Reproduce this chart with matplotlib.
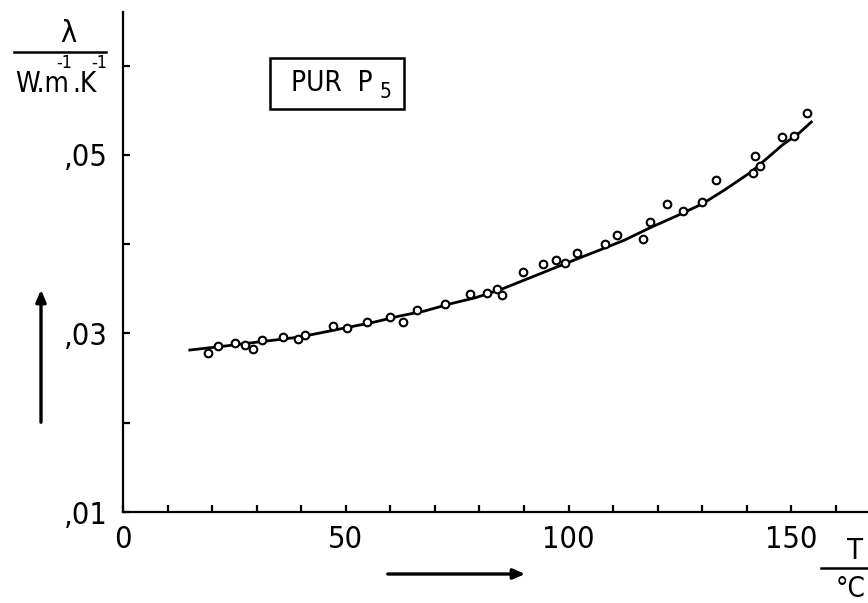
import matplotlib
matplotlib.use("Agg")
import matplotlib.pyplot as plt
from matplotlib.patches import Rectangle, FancyArrowPatch

# measured points (T in degC, lambda in W/(m K))
T_pts = [19.1, 21.3, 25.1, 27.4, 29.1, 31.2, 35.9, 39.2, 40.8, 47.1, 50.2,
         54.7, 59.9, 62.8, 65.9, 72.2, 77.8, 81.6, 83.9, 85.0, 89.7, 94.2,
         97.3, 99.3, 101.8, 108.1, 110.8, 116.8, 118.4, 122.2, 125.6, 130.0,
         133.2, 141.3, 141.9, 143.0, 148.0, 150.7, 153.6]
lam_pts = [0.02781, 0.02859, 0.02893, 0.02870, 0.02826, 0.02926, 0.02960,
           0.02938, 0.02982, 0.03083, 0.03061, 0.03128, 0.03184, 0.03128,
           0.03262, 0.03330, 0.03442, 0.03453, 0.03498, 0.03430, 0.03688,
           0.03778, 0.03822, 0.03789, 0.03901, 0.04002, 0.04102, 0.04058,
           0.04248, 0.04450, 0.04371, 0.04472, 0.04718, 0.04797, 0.04987,
           0.04875, 0.05200, 0.05211, 0.05469]

# fitted curve
T_fit = [15.0, 22.9, 28.5, 34.1, 39.7, 45.3, 50.9, 56.5, 62.1, 67.7, 73.3,
         78.9, 84.5, 90.1, 95.7, 101.3, 107.0, 112.6, 118.2, 124.0, 130.0,
         135.0, 141.0, 148.0, 151.8, 154.5]
lam_fit = [0.02814, 0.02859, 0.02893, 0.02926, 0.02960, 0.03016, 0.03072,
           0.03128, 0.03195, 0.03251, 0.03330, 0.03397, 0.03486, 0.03598,
           0.03710, 0.03822, 0.03934, 0.04046, 0.04181, 0.04310, 0.04450,
           0.04606, 0.04808, 0.05110, 0.05245, 0.05368]

xticks = list(range(0, 170, 10))
xlabels = ['0', '50', '100', '150']
yticks = [0.01, 0.02, 0.03, 0.04, 0.05, 0.06]
ylabels = [',01', '', ',03', '', ',05', '']

plt.rcParams['font.family'] = ['DejaVu Sans']
plt.rcParams['font.stretch'] = 'condensed'

W, H = 868, 603
fig = plt.figure(figsize=(W / 100, H / 100), dpi=100)


def fx(px):
    return px / W


def fy(py):
    return 1 - py / H


ax = fig.add_axes([fx(123), fy(512), fx(867) - fx(123), fy(12) - fy(512)])
ax.plot(T_fit, lam_fit, color='black', lw=2.0)
ax.plot(T_pts, lam_pts, 'o', ms=5.5, mfc='white', mec='black', mew=1.5)

ax.set_xlim(0, 167)
ax.set_ylim(0.01, 0.066)
for s in ['top', 'right']:
    ax.spines[s].set_visible(False)
for s in ['left', 'bottom']:
    ax.spines[s].set_linewidth(1.6)

ax.set_xticks(xticks)
ax.set_xticklabels([str(t) if str(t) in xlabels else '' for t in xticks])
ax.set_yticks(yticks)
ax.set_yticklabels(ylabels)
ax.tick_params(direction='in', length=5, width=1.6, labelsize=22, pad=9)
ax.tick_params(axis='y', pad=11)

# box label
fig.add_artist(Rectangle((fx(270), fy(109)), fx(404) - fx(270), fy(58) - fy(109),
                         transform=fig.transFigure, fill=False, ec='black', lw=1.8))
fig.text(fx(291), fy(83), 'PUR  P', fontsize=20, va='center', ha='left')
fig.text(fx(380), fy(92), '5', fontsize=15, va='center', ha='left')

# y quantity label
fig.text(fx(68), fy(33), 'λ', fontsize=22, ha='center', va='center')
fig.add_artist(plt.Line2D([fx(14), fx(106)], [fy(52), fy(52)], color='black', lw=1.8))
fig.text(fx(15), fy(84), 'W.m', fontsize=20, ha='left', va='center')
fig.text(fx(72), fy(84), '.K', fontsize=20, ha='left', va='center')
fig.text(fx(64), fy(63), '-1', fontsize=13, ha='center', va='center')
fig.text(fx(99), fy(63), '-1', fontsize=13, ha='center', va='center')

# x quantity label
fig.text(fx(855), fy(551), 'T', fontsize=21, ha='center', va='center')
fig.add_artist(plt.Line2D([fx(821), fx(868)], [fy(568), fy(568)], color='black', lw=1.8))
fig.text(fx(866), fy(589), '°C', fontsize=20, ha='right', va='center')

# direction arrows
fig.add_artist(FancyArrowPatch(
    (fx(385), fy(574)), (fx(528), fy(574)), transform=fig.transFigure,
    arrowstyle='-|>,head_length=7,head_width=3', lw=2.4, color='black'))
fig.add_artist(FancyArrowPatch(
    (fx(41), fy(425)), (fx(41), fy(287)), transform=fig.transFigure,
    arrowstyle='-|>,head_length=7,head_width=3', lw=2.4, color='black'))

fig.savefig('out.png', dpi=100)
